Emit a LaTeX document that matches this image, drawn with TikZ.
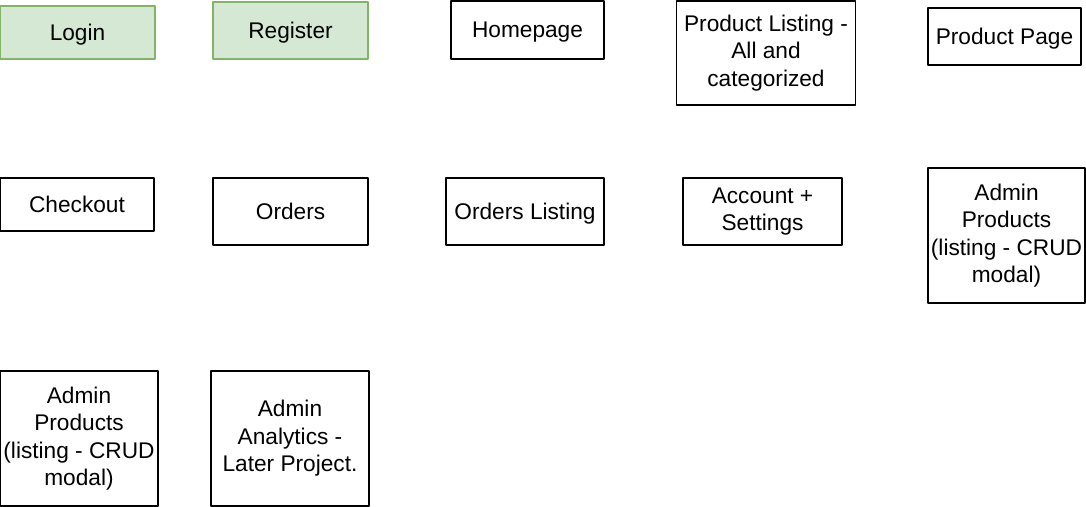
\documentclass[tikz,border=0pt]{standalone}
\usepackage{fontspec}
\setmainfont{Liberation Sans}
\newcommand{\boxstrut}{\rule[-0.212em]{0pt}{1.117em}}
\begin{document}
\begin{tikzpicture}[x=0.75pt,y=-0.75pt, line join=round, font=\fontsize{17}{20.6}\selectfont,
	box/.style 2 args={draw, line width=1pt, align=center, inner sep=0pt, minimum width=#1*0.75pt, minimum height=#2*0.75pt,
		execute at begin node=\boxstrut, execute at end node=\boxstrut},
	greenbox/.style 2 args={box={#1}{#2}, fill=green1, draw=green2}]
	\definecolor{green1}{HTML}{D5E8D4}
	\definecolor{green2}{HTML}{82B366}
	\useasboundingbox (0,0) rectangle (1086,507);
	% first row
	\node[greenbox={155}{53}] (login) at (77.5,32.5) {Login};
	\node[greenbox={155}{57}] (register) at (290.5,30.5) {Register};
	\node[box={153}{58}] (home) at (527.5,30) {Homepage};
	\node[box={179}{104}] (listing) at (766,53) {Product Listing -\\All and\\categorized};
	\node[box={153}{57}] (product) at (1004.5,36.5) {Product Page};
	% second row
	\node[box={154}{53}] (checkout) at (77,204.5) {Checkout};
	\node[box={155}{67}] (orders) at (290.5,211.5) {Orders};
	\node[box={158}{67}] (orderlist) at (525,211.5) {Orders Listing};
	\node[box={159}{67}] (account) at (762.5,211.5) {Account +\\Settings};
	\node[box={157}{135}] (adminprod) at (1006.5,235.5) {Admin\\Products\\(listing - CRUD\\modal)};
	% third row
	\node[box={158}{135}] (adminprodb) at (79,438.5) {Admin\\Products\\(listing - CRUD\\modal)};
	\node[box={158}{135}] (analytics) at (290,438.5) {Admin\\Analytics -\\Later Project.};
\end{tikzpicture}
\end{document}
